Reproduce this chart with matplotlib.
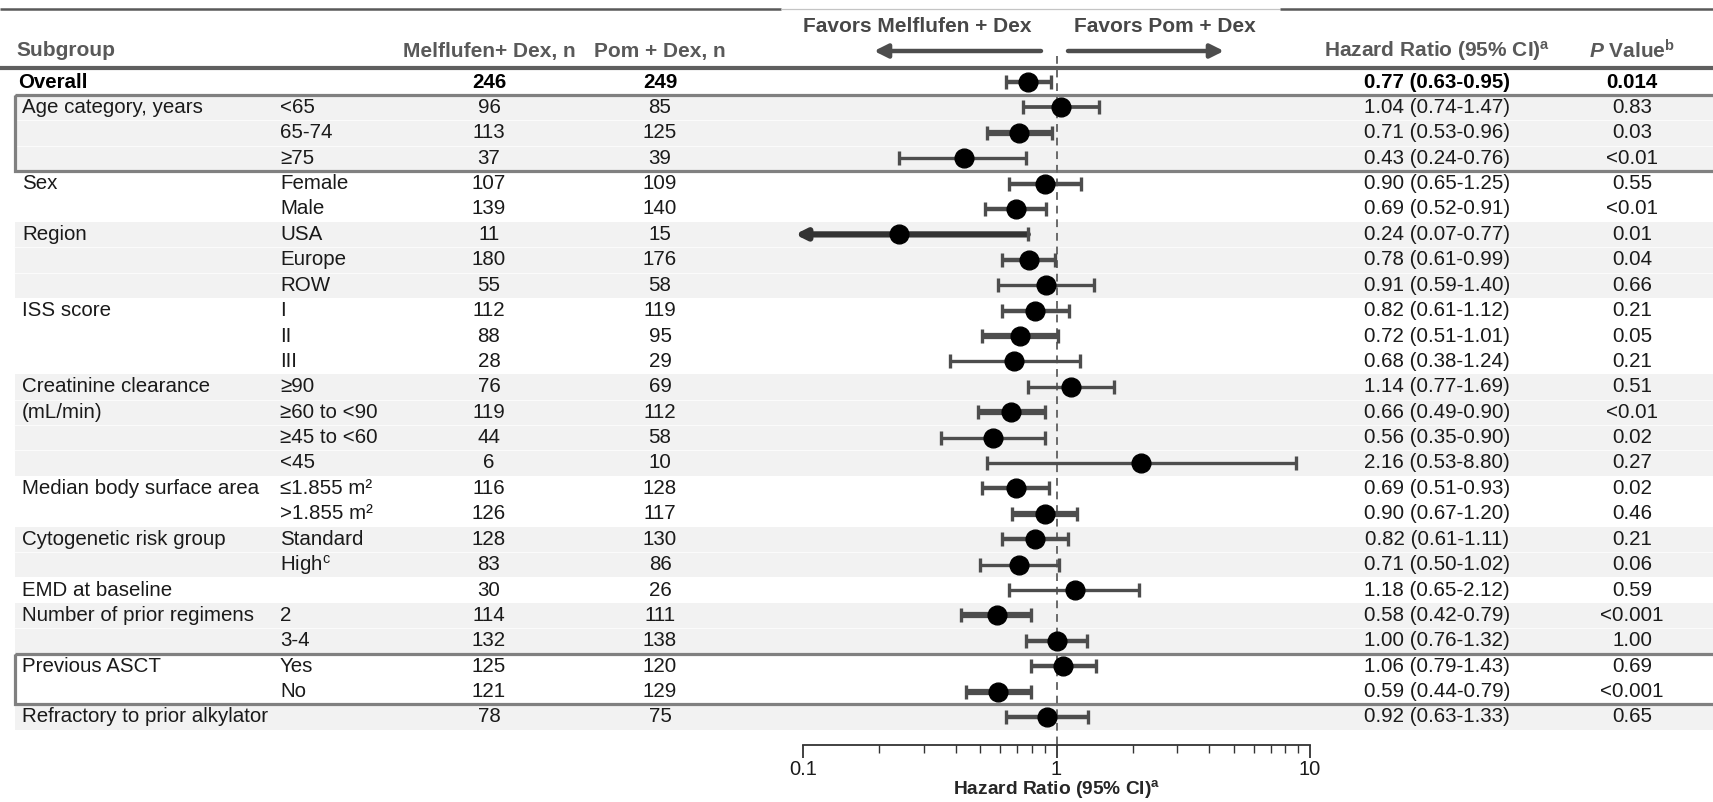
import matplotlib
matplotlib.use("Agg")
import matplotlib.pyplot as plt
from matplotlib.patches import Rectangle
from matplotlib.ticker import LogLocator, NullFormatter, FixedLocator, FixedFormatter

plt.rcParams['font.family'] = ['Liberation Sans', 'DejaVu Sans']
plt.rcParams['mathtext.fontset'] = 'custom'
plt.rcParams['mathtext.rm'] = 'Liberation Sans'
plt.rcParams['mathtext.it'] = 'Liberation Sans:italic'
plt.rcParams['mathtext.bf'] = 'Liberation Sans:bold'
try:
    plt.rcParams['mathtext.bfit'] = 'Liberation Sans:bold:italic'
except KeyError:
    pass

# ---- data -------------------------------------------------------------
groups = ["Overall", "Age category, years", "", "", "Sex", "", "Region", "", "",
          "ISS score", "", "", "Creatinine clearance", "(mL/min)", "", "",
          "Median body surface area", "", "Cytogenetic risk group", "",
          "EMD at baseline", "Number of prior regimens", "", "Previous ASCT", "",
          "Refractory to prior alkylator"]
subgroups = ["", "<65", "65-74", "≥75", "Female", "Male", "USA", "Europe", "ROW",
             "I", "II", "III", "≥90", "≥60 to <90", "≥45 to <60", "<45",
             "≤1.855 m²", ">1.855 m²", "Standard", r"High$^{\mathregular{c}}$", "",
             "2", "3-4", "Yes", "No", ""]
n_melflufen = [246, 96, 113, 37, 107, 139, 11, 180, 55, 112, 88, 28, 76, 119, 44, 6,
               116, 126, 128, 83, 30, 114, 132, 125, 121, 78]
n_pom = [249, 85, 125, 39, 109, 140, 15, 176, 58, 119, 95, 29, 69, 112, 58, 10,
         128, 117, 130, 86, 26, 111, 138, 120, 129, 75]
hr = [0.77, 1.04, 0.71, 0.43, 0.90, 0.69, 0.24, 0.78, 0.91, 0.82, 0.72, 0.68, 1.14,
      0.66, 0.56, 2.16, 0.69, 0.90, 0.82, 0.71, 1.18, 0.58, 1.00, 1.06, 0.59, 0.92]
ci_low = [0.63, 0.74, 0.53, 0.24, 0.65, 0.52, 0.07, 0.61, 0.59, 0.61, 0.51, 0.38, 0.77,
          0.49, 0.35, 0.53, 0.51, 0.67, 0.61, 0.50, 0.65, 0.42, 0.76, 0.79, 0.44, 0.63]
ci_high = [0.95, 1.47, 0.96, 0.76, 1.25, 0.91, 0.77, 0.99, 1.40, 1.12, 1.01, 1.24, 1.69,
           0.90, 0.90, 8.80, 0.93, 1.20, 1.11, 1.02, 2.12, 0.79, 1.32, 1.43, 0.79, 1.33]
p_values = ["0.014", "0.83", "0.03", "<0.01", "0.55", "<0.01", "0.01", "0.04", "0.66",
            "0.21", "0.05", "0.21", "0.51", "<0.01", "0.02", "0.27", "0.02", "0.46",
            "0.21", "0.06", "0.59", "<0.001", "1.00", "0.69", "<0.001", "0.65"]
group_starts = [1, 4, 6, 9, 12, 16, 18, 20, 21, 23, 25]
boxed_groups = [1, 23]
x_ticks = [0.1, 1, 10]
x_tick_labels = ["0.1", "1", "10"]

# ---- styling ----------------------------------------------------------
W, H = 1713, 802
ROW0, ROW_H = 82, 25.4
FS = 14.8
TXT = '#1a1a1a'
HDR = '#595959'
LINE = '#4d4d4d'
THIN, MED, THICK = 2.4, 3.2, 4.5
ci_lw = [MED, 2.7, THICK, THIN, MED, MED, THICK, MED, THIN, MED, THICK, THIN, THIN,
         THICK, THIN, THIN, MED, THICK, MED, THIN, THIN, THICK, MED, MED, THICK, MED]

X_GROUP, X_SUB, X_N1, X_N2, X_HR, X_P = 22, 280, 489, 660, 1437, 1632
AX_L, AX_R, AX_Y = 803, 1310, 745

fig = plt.figure(figsize=(W / 100, H / 100), dpi=100)
bg = fig.add_axes([0, 0, 1, 1])
bg.set_xlim(0, W)
bg.set_ylim(H, 0)
bg.axis('off')

n_rows = len(hr)
row_y = [ROW0 + ROW_H * i for i in range(n_rows)]

# group bands and boxes
bounds = group_starts + [n_rows]
for k, start in enumerate(group_starts):
    end = bounds[k + 1]
    top = ROW0 + ROW_H * (start - 0.5)
    height = ROW_H * (end - start)
    if k % 2 == 0:
        bg.add_patch(Rectangle((15, top), W - 15, height, facecolor='#f2f2f2',
                               edgecolor='none', zorder=0))
        for r in range(start + 1, end):
            yb = ROW0 + ROW_H * (r - 0.5)
            bg.plot([15, W], [yb, yb], color='#fbfbfb', lw=0.8, zorder=0.5)
    if start in boxed_groups:
        bg.add_patch(Rectangle((15, top), W + 20, height, facecolor='none',
                               edgecolor='#808080', lw=2.3, zorder=3))

# rules
bg.plot([0, 781], [9, 9], color='#595959', lw=1.8, solid_capstyle='butt')
bg.plot([781, 1280], [9, 9], color='#c4c4c4', lw=0.9, solid_capstyle='butt')
bg.plot([1280, W], [9, 9], color='#595959', lw=1.8, solid_capstyle='butt')
bg.plot([0, W], [68, 68], color='#5f5f5f', lw=3.0, solid_capstyle='butt', zorder=3)

# header
hy = 51
bg.text(16, hy, "Subgroup", fontsize=15, fontweight='bold', color=HDR, va='center')
bg.text(X_N1, hy, "Melflufen+ Dex, n", fontsize=15, fontweight='bold', color=HDR,
        va='center', ha='center')
bg.text(X_N2, hy, "Pom + Dex, n", fontsize=15, fontweight='bold', color=HDR,
        va='center', ha='center')
bg.text(X_HR, hy, r"Hazard Ratio (95% CI)$^{\mathbf{a}}$", fontsize=15,
        fontweight='bold', color=HDR, va='center', ha='center')
bg.text(X_P, hy, r"$\mathbfit{P}$ Value$^{\mathbf{b}}$", fontsize=15,
        fontweight='bold', color=HDR, va='center', ha='center')
bg.text(917, 26, "Favors Melflufen + Dex", fontsize=15, fontweight='bold',
        color='#474747', va='center', ha='center')
bg.text(1165, 26, "Favors Pom + Dex", fontsize=15, fontweight='bold',
        color='#474747', va='center', ha='center')
arrow_kw = dict(arrowstyle='-|>', color=LINE, lw=3.2, mutation_scale=20,
                shrinkA=0, shrinkB=0)
bg.annotate('', xy=(874, 51), xytext=(1041, 51), arrowprops=arrow_kw)
bg.annotate('', xy=(1224, 51), xytext=(1068, 51), arrowprops=arrow_kw)

# table body
for i in range(n_rows):
    y = row_y[i]
    bold = 'bold' if i == 0 else 'normal'
    color = '#000000' if i == 0 else TXT
    kw = dict(fontsize=FS, fontweight=bold, color=color, va='center')
    bg.text(X_GROUP if i else 18, y, groups[i], **kw)
    bg.text(X_SUB, y, subgroups[i], **kw)
    bg.text(X_N1, y, str(n_melflufen[i]), ha='center', **kw)
    bg.text(X_N2, y, str(n_pom[i]), ha='center', **kw)
    bg.text(X_HR, y, f"{hr[i]:.2f} ({ci_low[i]:.2f}-{ci_high[i]:.2f})", ha='center', **kw)
    bg.text(X_P, y, p_values[i], ha='center', **kw)

# forest panel
ax = fig.add_axes([AX_L / W, (H - AX_Y) / H, (AX_R - AX_L) / W, AX_Y / H])
ax.set_xscale('log')
ax.set_xlim(x_ticks[0], x_ticks[-1])
ax.set_ylim(AX_Y, 0)
ax.patch.set_alpha(0)
for s in ('top', 'left', 'right'):
    ax.spines[s].set_visible(False)
ax.spines['bottom'].set_color('#333333')
ax.spines['bottom'].set_linewidth(1.3)
ax.set_yticks([])
ax.xaxis.set_major_locator(FixedLocator(x_ticks))
ax.xaxis.set_major_formatter(FixedFormatter(x_tick_labels))
ax.xaxis.set_minor_locator(LogLocator(base=10, subs=range(2, 10)))
ax.xaxis.set_minor_formatter(NullFormatter())
ax.tick_params(axis='x', which='major', length=9, width=1.3, color='#333333',
               labelsize=14.5, labelcolor=TXT, pad=2)
ax.tick_params(axis='x', which='minor', length=6, width=1.0, color='#333333')
ax.set_xlabel(r"Hazard Ratio (95% CI)$^{\mathbf{a}}$", fontsize=13.8,
              fontweight='bold', color='#262626', labelpad=-1)

ax.vlines(1, 56, AX_Y, colors='#6a6a6a', linestyles=(0, (4, 3)), lw=1.4, zorder=1)

xmin = x_ticks[0]
for i in range(n_rows):
    y = row_y[i]
    lw = ci_lw[i]
    hi = ci_high[i]
    if ci_low[i] < xmin:
        ax.annotate('', xy=(0.093, y), xytext=(hi, y), annotation_clip=False,
                    arrowprops=dict(arrowstyle='-|>', color='#333333', lw=lw,
                                    mutation_scale=15, shrinkA=0, shrinkB=0),
                    zorder=2)
        ax.plot([hi], [y], marker='|', ms=10, mew=2.4, color=LINE, zorder=2)
    else:
        ax.hlines(y, ci_low[i], hi, colors=LINE, lw=lw, zorder=2)
        ax.plot([ci_low[i], hi], [y, y], ls='none', marker='|', ms=10, mew=2.4,
                color=LINE, zorder=2)
    ax.plot([hr[i]], [y], marker='o', ms=13.5, color='black', mec='black', zorder=4)

fig.savefig("out.png", dpi=100)
